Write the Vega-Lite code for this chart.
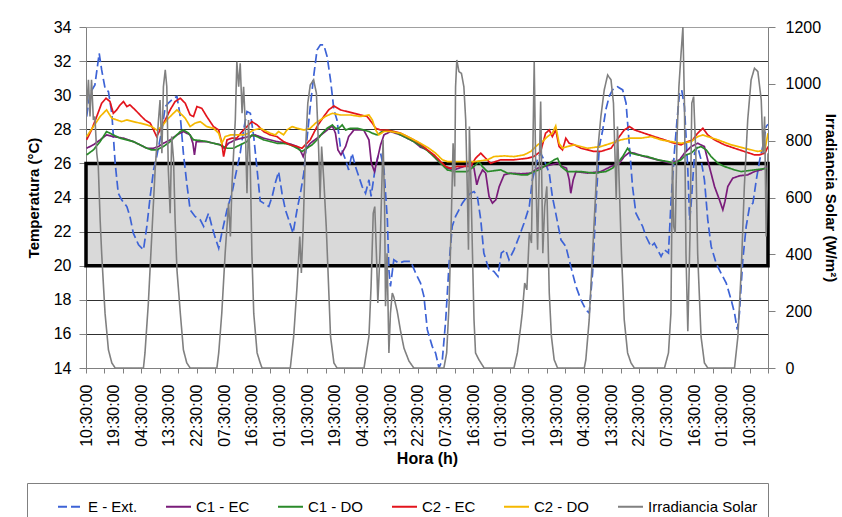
{
"$schema":"https://vega.github.io/schema/vega-lite/v6.json",
"width":682,"height":341,"autosize":"none",
"padding":{"left":86,"top":27,"right":74,"bottom":149},
"background":"white",
"config":{"view":{"stroke":null},"font":"Liberation Sans",
"axis":{"labelFont":"Liberation Sans","titleFont":"Liberation Sans","labelColor":"#000","titleColor":"#000","domainColor":"#808080","tickColor":"#808080","labelFontSize":16,"titleFontSize":16,"titleFontWeight":"bold"}},
"datasets":{
"band":[{"h":0,"h2":222,"lo":20,"hi":26}],
"d":[
{"s":"E - Ext.","h":0.2,"v":28.75},{"s":"E - Ext.","h":1.3,"v":30.11},{"s":"E - Ext.","h":2.9,"v":30.6},{"s":"E - Ext.","h":4.3,"v":32.46},{"s":"E - Ext.","h":5.1,"v":31.48},{"s":"E - Ext.","h":6.2,"v":30.41},{"s":"E - Ext.","h":7.3,"v":30.21},{"s":"E - Ext.","h":8.4,"v":28.94},{"s":"E - Ext.","h":9.5,"v":26.01},{"s":"E - Ext.","h":10.5,"v":24.25},{"s":"E - Ext.","h":11.6,"v":23.86},{"s":"E - Ext.","h":13.3,"v":23.47},{"s":"E - Ext.","h":14.3,"v":22.89},{"s":"E - Ext.","h":15.4,"v":21.91},{"s":"E - Ext.","h":17.1,"v":21.23},{"s":"E - Ext.","h":18.7,"v":20.93},{"s":"E - Ext.","h":19.8,"v":22.3},{"s":"E - Ext.","h":20.9,"v":24.06},{"s":"E - Ext.","h":22,"v":25.62},{"s":"E - Ext.","h":23,"v":26.4},{"s":"E - Ext.","h":24.7,"v":27.96},{"s":"E - Ext.","h":25.8,"v":29.33},{"s":"E - Ext.","h":26.8,"v":29.53},{"s":"E - Ext.","h":28.5,"v":29.82},{"s":"E - Ext.","h":29.6,"v":29.92},{"s":"E - Ext.","h":30.7,"v":28.75},{"s":"E - Ext.","h":31.7,"v":26.6},{"s":"E - Ext.","h":32.8,"v":24.84},{"s":"E - Ext.","h":33.9,"v":23.28},{"s":"E - Ext.","h":35.5,"v":22.89},{"s":"E - Ext.","h":37.2,"v":22.69},{"s":"E - Ext.","h":38.3,"v":22.3},{"s":"E - Ext.","h":39.9,"v":23.08},{"s":"E - Ext.","h":41,"v":22.3},{"s":"E - Ext.","h":42.1,"v":21.62},{"s":"E - Ext.","h":43.2,"v":21.03},{"s":"E - Ext.","h":44.2,"v":21.91},{"s":"E - Ext.","h":45.9,"v":23.28},{"s":"E - Ext.","h":47.5,"v":24.25},{"s":"E - Ext.","h":48.6,"v":25.23},{"s":"E - Ext.","h":50.2,"v":26.6},{"s":"E - Ext.","h":51.3,"v":27.96},{"s":"E - Ext.","h":52.4,"v":29.04},{"s":"E - Ext.","h":53.5,"v":28.94},{"s":"E - Ext.","h":54.6,"v":27.57},{"s":"E - Ext.","h":55.7,"v":25.62},{"s":"E - Ext.","h":56.7,"v":23.8},{"s":"E - Ext.","h":57.8,"v":23.67},{"s":"E - Ext.","h":59.5,"v":23.47},{"s":"E - Ext.","h":60.6,"v":24.06},{"s":"E - Ext.","h":61.6,"v":24.84},{"s":"E - Ext.","h":62.7,"v":25.52},{"s":"E - Ext.","h":63.8,"v":24.25},{"s":"E - Ext.","h":64.9,"v":23.28},{"s":"E - Ext.","h":66,"v":22.69},{"s":"E - Ext.","h":67.4,"v":21.91},{"s":"E - Ext.","h":68.7,"v":23.28},{"s":"E - Ext.","h":69.8,"v":24.25},{"s":"E - Ext.","h":70.9,"v":25.43},{"s":"E - Ext.","h":71.9,"v":27.38},{"s":"E - Ext.","h":73,"v":29.33},{"s":"E - Ext.","h":74.1,"v":31.09},{"s":"E - Ext.","h":75.2,"v":32.65},{"s":"E - Ext.","h":76.3,"v":32.95},{"s":"E - Ext.","h":77.4,"v":32.95},{"s":"E - Ext.","h":78.5,"v":32.26},{"s":"E - Ext.","h":79.6,"v":30.89},{"s":"E - Ext.","h":80.7,"v":29.14},{"s":"E - Ext.","h":81.7,"v":28.55},{"s":"E - Ext.","h":82.8,"v":26.99},{"s":"E - Ext.","h":84.5,"v":26.21},{"s":"E - Ext.","h":85.5,"v":25.62},{"s":"E - Ext.","h":86.6,"v":26.6},{"s":"E - Ext.","h":87.7,"v":25.82},{"s":"E - Ext.","h":88.8,"v":25.23},{"s":"E - Ext.","h":89.9,"v":24.64},{"s":"E - Ext.","h":91,"v":24.25},{"s":"E - Ext.","h":92.1,"v":25.04},{"s":"E - Ext.","h":92.8,"v":24.06},{"s":"E - Ext.","h":93.9,"v":25.43},{"s":"E - Ext.","h":95,"v":26.4},{"s":"E - Ext.","h":95.9,"v":26.6},{"s":"E - Ext.","h":97,"v":25.62},{"s":"E - Ext.","h":98.1,"v":22.69},{"s":"E - Ext.","h":98.6,"v":19.76},{"s":"E - Ext.","h":99.1,"v":18.78},{"s":"E - Ext.","h":100.2,"v":20.35},{"s":"E - Ext.","h":101.8,"v":20.15},{"s":"E - Ext.","h":103.5,"v":20.25},{"s":"E - Ext.","h":105.7,"v":20.25},{"s":"E - Ext.","h":107.3,"v":19.57},{"s":"E - Ext.","h":108.9,"v":18.98},{"s":"E - Ext.","h":110,"v":18.2},{"s":"E - Ext.","h":111.1,"v":16.25},{"s":"E - Ext.","h":112.7,"v":15.27},{"s":"E - Ext.","h":113.8,"v":14.88},{"s":"E - Ext.","h":114.9,"v":14},{"s":"E - Ext.","h":116,"v":14.49},{"s":"E - Ext.","h":117.1,"v":16.83},{"s":"E - Ext.","h":118.2,"v":20.15},{"s":"E - Ext.","h":119.2,"v":22.3},{"s":"E - Ext.","h":120.3,"v":22.89},{"s":"E - Ext.","h":121.4,"v":23.28},{"s":"E - Ext.","h":122.5,"v":23.67},{"s":"E - Ext.","h":124.1,"v":24.06},{"s":"E - Ext.","h":125.2,"v":24.25},{"s":"E - Ext.","h":126.3,"v":24.35},{"s":"E - Ext.","h":127.4,"v":24.06},{"s":"E - Ext.","h":128.5,"v":22.69},{"s":"E - Ext.","h":129.5,"v":20.74},{"s":"E - Ext.","h":131.2,"v":19.76},{"s":"E - Ext.","h":132.8,"v":19.66},{"s":"E - Ext.","h":134.1,"v":19.37},{"s":"E - Ext.","h":135.2,"v":20.74},{"s":"E - Ext.","h":136.6,"v":20.93},{"s":"E - Ext.","h":137.7,"v":20.35},{"s":"E - Ext.","h":139.3,"v":20.93},{"s":"E - Ext.","h":141,"v":21.71},{"s":"E - Ext.","h":142.6,"v":22.5},{"s":"E - Ext.","h":144.3,"v":23.47},{"s":"E - Ext.","h":145.3,"v":25.04},{"s":"E - Ext.","h":146.9,"v":26.21},{"s":"E - Ext.","h":148,"v":26.6},{"s":"E - Ext.","h":149.1,"v":26.21},{"s":"E - Ext.","h":150.8,"v":25.43},{"s":"E - Ext.","h":151.8,"v":24.06},{"s":"E - Ext.","h":152.9,"v":23.08},{"s":"E - Ext.","h":154.6,"v":21.52},{"s":"E - Ext.","h":156.2,"v":21.13},{"s":"E - Ext.","h":157.8,"v":19.96},{"s":"E - Ext.","h":159.5,"v":18.78},{"s":"E - Ext.","h":161.1,"v":18},{"s":"E - Ext.","h":162.7,"v":17.42},{"s":"E - Ext.","h":163.8,"v":17.22},{"s":"E - Ext.","h":164.9,"v":19.57},{"s":"E - Ext.","h":166,"v":23.67},{"s":"E - Ext.","h":167.1,"v":26.99},{"s":"E - Ext.","h":168.2,"v":27.96},{"s":"E - Ext.","h":169.2,"v":29.14},{"s":"E - Ext.","h":170.3,"v":29.92},{"s":"E - Ext.","h":171.4,"v":30.31},{"s":"E - Ext.","h":173,"v":30.5},{"s":"E - Ext.","h":174.7,"v":30.31},{"s":"E - Ext.","h":175.8,"v":29.53},{"s":"E - Ext.","h":176.9,"v":26.99},{"s":"E - Ext.","h":177.9,"v":24.64},{"s":"E - Ext.","h":179,"v":23.08},{"s":"E - Ext.","h":180.1,"v":22.69},{"s":"E - Ext.","h":181.2,"v":22.3},{"s":"E - Ext.","h":182.3,"v":21.71},{"s":"E - Ext.","h":183.9,"v":21.13},{"s":"E - Ext.","h":185,"v":21.32},{"s":"E - Ext.","h":186.1,"v":20.93},{"s":"E - Ext.","h":187.2,"v":20.54},{"s":"E - Ext.","h":188.3,"v":20.93},{"s":"E - Ext.","h":189.6,"v":20.74},{"s":"E - Ext.","h":190.4,"v":23.67},{"s":"E - Ext.","h":191.5,"v":26.6},{"s":"E - Ext.","h":192.4,"v":28.55},{"s":"E - Ext.","h":193.2,"v":30.11},{"s":"E - Ext.","h":193.9,"v":30.31},{"s":"E - Ext.","h":194.8,"v":29.33},{"s":"E - Ext.","h":195.9,"v":25.62},{"s":"E - Ext.","h":196.5,"v":22.69},{"s":"E - Ext.","h":197,"v":23.67},{"s":"E - Ext.","h":198.1,"v":26.6},{"s":"E - Ext.","h":199.1,"v":26.99},{"s":"E - Ext.","h":200.2,"v":26.21},{"s":"E - Ext.","h":201.3,"v":25.04},{"s":"E - Ext.","h":202.4,"v":22.69},{"s":"E - Ext.","h":203.5,"v":21.13},{"s":"E - Ext.","h":205.1,"v":20.15},{"s":"E - Ext.","h":206.7,"v":19.57},{"s":"E - Ext.","h":208.4,"v":18.98},{"s":"E - Ext.","h":210,"v":18},{"s":"E - Ext.","h":211.1,"v":17.22},{"s":"E - Ext.","h":212,"v":16.25},{"s":"E - Ext.","h":212.7,"v":17.22},{"s":"E - Ext.","h":213.8,"v":20.35},{"s":"E - Ext.","h":214.9,"v":22.3},{"s":"E - Ext.","h":216,"v":23.47},{"s":"E - Ext.","h":217.1,"v":23.67},{"s":"E - Ext.","h":218.2,"v":25.04},{"s":"E - Ext.","h":219.3,"v":26.21},{"s":"E - Ext.","h":220.3,"v":26.99},{"s":"E - Ext.","h":221.4,"v":28.16},{"s":"E - Ext.","h":222,"v":28.3},
{"s":"C1 - EC","h":0.2,"v":26.89},{"s":"C1 - EC","h":2.4,"v":27.09},{"s":"C1 - EC","h":4.6,"v":27.38},{"s":"C1 - EC","h":6.7,"v":27.67},{"s":"C1 - EC","h":8.9,"v":27.57},{"s":"C1 - EC","h":12.2,"v":27.48},{"s":"C1 - EC","h":15.4,"v":27.28},{"s":"C1 - EC","h":19.8,"v":26.89},{"s":"C1 - EC","h":22,"v":26.89},{"s":"C1 - EC","h":23.6,"v":26.99},{"s":"C1 - EC","h":25.2,"v":27.18},{"s":"C1 - EC","h":27.4,"v":27.38},{"s":"C1 - EC","h":29.6,"v":27.67},{"s":"C1 - EC","h":31.7,"v":27.87},{"s":"C1 - EC","h":33.9,"v":27.67},{"s":"C1 - EC","h":34.8,"v":27.18},{"s":"C1 - EC","h":35.3,"v":26.5},{"s":"C1 - EC","h":35.9,"v":27.28},{"s":"C1 - EC","h":39.3,"v":27.28},{"s":"C1 - EC","h":43.7,"v":27.09},{"s":"C1 - EC","h":45,"v":26.89},{"s":"C1 - EC","h":46.4,"v":27.18},{"s":"C1 - EC","h":48.6,"v":27.38},{"s":"C1 - EC","h":50.8,"v":27.48},{"s":"C1 - EC","h":52.9,"v":27.57},{"s":"C1 - EC","h":55.1,"v":27.67},{"s":"C1 - EC","h":57.8,"v":27.48},{"s":"C1 - EC","h":62.2,"v":27.28},{"s":"C1 - EC","h":66.5,"v":27.14},{"s":"C1 - EC","h":68.7,"v":26.99},{"s":"C1 - EC","h":69.8,"v":26.75},{"s":"C1 - EC","h":70.7,"v":26.4},{"s":"C1 - EC","h":71.4,"v":26.79},{"s":"C1 - EC","h":73,"v":27.18},{"s":"C1 - EC","h":75.2,"v":27.48},{"s":"C1 - EC","h":78.5,"v":27.96},{"s":"C1 - EC","h":80.2,"v":28.2},{"s":"C1 - EC","h":81.2,"v":27.77},{"s":"C1 - EC","h":82,"v":26.79},{"s":"C1 - EC","h":83,"v":26.5},{"s":"C1 - EC","h":84.5,"v":26.99},{"s":"C1 - EC","h":85.5,"v":27.57},{"s":"C1 - EC","h":87.2,"v":27.96},{"s":"C1 - EC","h":90.4,"v":27.96},{"s":"C1 - EC","h":92.1,"v":27.38},{"s":"C1 - EC","h":92.9,"v":26.01},{"s":"C1 - EC","h":93.9,"v":25.52},{"s":"C1 - EC","h":94.8,"v":26.21},{"s":"C1 - EC","h":95.9,"v":27.09},{"s":"C1 - EC","h":97,"v":27.67},{"s":"C1 - EC","h":99.1,"v":27.87},{"s":"C1 - EC","h":102.4,"v":27.67},{"s":"C1 - EC","h":106.7,"v":27.28},{"s":"C1 - EC","h":108.9,"v":26.95},{"s":"C1 - EC","h":111.1,"v":26.79},{"s":"C1 - EC","h":112.2,"v":26.6},{"s":"C1 - EC","h":115.4,"v":26.01},{"s":"C1 - EC","h":117.6,"v":25.72},{"s":"C1 - EC","h":119.8,"v":25.62},{"s":"C1 - EC","h":123,"v":25.82},{"s":"C1 - EC","h":125.2,"v":26.01},{"s":"C1 - EC","h":126.3,"v":25.72},{"s":"C1 - EC","h":127.2,"v":24.74},{"s":"C1 - EC","h":128,"v":25.23},{"s":"C1 - EC","h":129.1,"v":25.62},{"s":"C1 - EC","h":130.1,"v":25.43},{"s":"C1 - EC","h":131.2,"v":24.06},{"s":"C1 - EC","h":132.3,"v":23.67},{"s":"C1 - EC","h":133.4,"v":23.86},{"s":"C1 - EC","h":134.5,"v":24.64},{"s":"C1 - EC","h":136.1,"v":25.33},{"s":"C1 - EC","h":138.3,"v":25.43},{"s":"C1 - EC","h":141.5,"v":25.39},{"s":"C1 - EC","h":144.8,"v":25.43},{"s":"C1 - EC","h":147,"v":25.72},{"s":"C1 - EC","h":149.1,"v":25.82},{"s":"C1 - EC","h":151.3,"v":25.91},{"s":"C1 - EC","h":153.5,"v":26.01},{"s":"C1 - EC","h":155.1,"v":25.82},{"s":"C1 - EC","h":156.4,"v":25.72},{"s":"C1 - EC","h":157.3,"v":25.04},{"s":"C1 - EC","h":157.8,"v":24.25},{"s":"C1 - EC","h":158.6,"v":25.04},{"s":"C1 - EC","h":159.5,"v":25.52},{"s":"C1 - EC","h":163.3,"v":25.43},{"s":"C1 - EC","h":167.6,"v":25.52},{"s":"C1 - EC","h":170.9,"v":25.82},{"s":"C1 - EC","h":173.6,"v":26.01},{"s":"C1 - EC","h":175.2,"v":26.4},{"s":"C1 - EC","h":176.9,"v":26.65},{"s":"C1 - EC","h":178.5,"v":26.6},{"s":"C1 - EC","h":181.7,"v":26.4},{"s":"C1 - EC","h":186.1,"v":26.21},{"s":"C1 - EC","h":190.4,"v":26.01},{"s":"C1 - EC","h":193.2,"v":26.21},{"s":"C1 - EC","h":194.8,"v":26.6},{"s":"C1 - EC","h":197,"v":26.99},{"s":"C1 - EC","h":199.1,"v":27.18},{"s":"C1 - EC","h":201.3,"v":26.99},{"s":"C1 - EC","h":202.9,"v":25.82},{"s":"C1 - EC","h":204.6,"v":24.64},{"s":"C1 - EC","h":206.2,"v":23.86},{"s":"C1 - EC","h":207.3,"v":23.28},{"s":"C1 - EC","h":208,"v":23.77},{"s":"C1 - EC","h":208.9,"v":24.64},{"s":"C1 - EC","h":210.5,"v":25.13},{"s":"C1 - EC","h":212.7,"v":25.27},{"s":"C1 - EC","h":215.4,"v":25.33},{"s":"C1 - EC","h":217.6,"v":25.52},{"s":"C1 - EC","h":219.8,"v":25.62},{"s":"C1 - EC","h":222,"v":25.82},
{"s":"C1 - DO","h":0.2,"v":26.5},{"s":"C1 - DO","h":2.4,"v":26.79},{"s":"C1 - DO","h":4.6,"v":27.28},{"s":"C1 - DO","h":6.7,"v":27.87},{"s":"C1 - DO","h":8.9,"v":27.67},{"s":"C1 - DO","h":11.1,"v":27.48},{"s":"C1 - DO","h":13.3,"v":27.38},{"s":"C1 - DO","h":15.4,"v":27.28},{"s":"C1 - DO","h":17.6,"v":27.09},{"s":"C1 - DO","h":19.8,"v":26.89},{"s":"C1 - DO","h":21.4,"v":26.79},{"s":"C1 - DO","h":23,"v":26.79},{"s":"C1 - DO","h":25.2,"v":26.99},{"s":"C1 - DO","h":27.4,"v":27.28},{"s":"C1 - DO","h":29,"v":27.57},{"s":"C1 - DO","h":30.7,"v":27.87},{"s":"C1 - DO","h":31.7,"v":27.96},{"s":"C1 - DO","h":33.4,"v":27.77},{"s":"C1 - DO","h":35,"v":27.38},{"s":"C1 - DO","h":37.2,"v":27.34},{"s":"C1 - DO","h":39.3,"v":27.28},{"s":"C1 - DO","h":41.5,"v":27.18},{"s":"C1 - DO","h":43.7,"v":27.09},{"s":"C1 - DO","h":45.9,"v":26.89},{"s":"C1 - DO","h":48,"v":26.89},{"s":"C1 - DO","h":50.2,"v":27.09},{"s":"C1 - DO","h":52.4,"v":27.28},{"s":"C1 - DO","h":54,"v":27.67},{"s":"C1 - DO","h":55.7,"v":27.57},{"s":"C1 - DO","h":57.8,"v":27.38},{"s":"C1 - DO","h":60,"v":27.28},{"s":"C1 - DO","h":62.2,"v":27.18},{"s":"C1 - DO","h":64.3,"v":27.18},{"s":"C1 - DO","h":66.5,"v":27.09},{"s":"C1 - DO","h":68.7,"v":26.89},{"s":"C1 - DO","h":70.3,"v":26.7},{"s":"C1 - DO","h":71.9,"v":26.89},{"s":"C1 - DO","h":73.6,"v":27.09},{"s":"C1 - DO","h":75.2,"v":27.38},{"s":"C1 - DO","h":76.9,"v":27.77},{"s":"C1 - DO","h":78.5,"v":28.06},{"s":"C1 - DO","h":80.2,"v":28.26},{"s":"C1 - DO","h":81.2,"v":28.06},{"s":"C1 - DO","h":82.3,"v":28.06},{"s":"C1 - DO","h":83.4,"v":28.26},{"s":"C1 - DO","h":84.5,"v":27.96},{"s":"C1 - DO","h":86.1,"v":28.06},{"s":"C1 - DO","h":88.3,"v":28.06},{"s":"C1 - DO","h":90.4,"v":27.96},{"s":"C1 - DO","h":92.1,"v":27.87},{"s":"C1 - DO","h":93.2,"v":27.77},{"s":"C1 - DO","h":94.8,"v":27.67},{"s":"C1 - DO","h":96.4,"v":27.87},{"s":"C1 - DO","h":98,"v":27.96},{"s":"C1 - DO","h":100.2,"v":27.87},{"s":"C1 - DO","h":102.4,"v":27.67},{"s":"C1 - DO","h":104.6,"v":27.48},{"s":"C1 - DO","h":106.7,"v":27.28},{"s":"C1 - DO","h":108.9,"v":27.04},{"s":"C1 - DO","h":111.1,"v":26.75},{"s":"C1 - DO","h":113.3,"v":26.4},{"s":"C1 - DO","h":115.4,"v":26.01},{"s":"C1 - DO","h":117.6,"v":25.62},{"s":"C1 - DO","h":119.8,"v":25.52},{"s":"C1 - DO","h":124.1,"v":25.52},{"s":"C1 - DO","h":126.3,"v":25.82},{"s":"C1 - DO","h":127.9,"v":26.11},{"s":"C1 - DO","h":129,"v":25.82},{"s":"C1 - DO","h":130.7,"v":25.52},{"s":"C1 - DO","h":135,"v":25.62},{"s":"C1 - DO","h":137.2,"v":25.43},{"s":"C1 - DO","h":141.5,"v":25.33},{"s":"C1 - DO","h":143.7,"v":25.33},{"s":"C1 - DO","h":145.9,"v":25.52},{"s":"C1 - DO","h":147.5,"v":25.62},{"s":"C1 - DO","h":149.1,"v":25.82},{"s":"C1 - DO","h":150.8,"v":26.01},{"s":"C1 - DO","h":152.4,"v":26.21},{"s":"C1 - DO","h":153.5,"v":26.3},{"s":"C1 - DO","h":154.6,"v":25.82},{"s":"C1 - DO","h":156.7,"v":25.52},{"s":"C1 - DO","h":161.1,"v":25.52},{"s":"C1 - DO","h":165.4,"v":25.43},{"s":"C1 - DO","h":169.2,"v":25.52},{"s":"C1 - DO","h":171.4,"v":25.72},{"s":"C1 - DO","h":173,"v":26.01},{"s":"C1 - DO","h":174.7,"v":26.4},{"s":"C1 - DO","h":176.3,"v":26.89},{"s":"C1 - DO","h":177.4,"v":26.6},{"s":"C1 - DO","h":179.6,"v":26.5},{"s":"C1 - DO","h":182.8,"v":26.4},{"s":"C1 - DO","h":186.1,"v":26.21},{"s":"C1 - DO","h":189.3,"v":26.11},{"s":"C1 - DO","h":191.5,"v":26.01},{"s":"C1 - DO","h":193.7,"v":26.21},{"s":"C1 - DO","h":195.3,"v":26.5},{"s":"C1 - DO","h":197,"v":26.6},{"s":"C1 - DO","h":198.7,"v":26.89},{"s":"C1 - DO","h":200.2,"v":26.99},{"s":"C1 - DO","h":201.9,"v":26.79},{"s":"C1 - DO","h":203.5,"v":26.4},{"s":"C1 - DO","h":205.7,"v":26.01},{"s":"C1 - DO","h":207.8,"v":25.82},{"s":"C1 - DO","h":211.1,"v":25.62},{"s":"C1 - DO","h":213.3,"v":25.52},{"s":"C1 - DO","h":217.6,"v":25.62},{"s":"C1 - DO","h":222,"v":25.72},
{"s":"C2 - EC","h":0.2,"v":27.38},{"s":"C2 - EC","h":1.8,"v":27.96},{"s":"C2 - EC","h":3.5,"v":28.75},{"s":"C2 - EC","h":5.1,"v":29.53},{"s":"C2 - EC","h":6.5,"v":29.82},{"s":"C2 - EC","h":7.8,"v":29.63},{"s":"C2 - EC","h":8.9,"v":28.94},{"s":"C2 - EC","h":10,"v":29.14},{"s":"C2 - EC","h":11.1,"v":29.43},{"s":"C2 - EC","h":12.2,"v":29.63},{"s":"C2 - EC","h":13.3,"v":29.33},{"s":"C2 - EC","h":14.3,"v":29.43},{"s":"C2 - EC","h":16,"v":29.14},{"s":"C2 - EC","h":17.6,"v":28.84},{"s":"C2 - EC","h":19.2,"v":28.55},{"s":"C2 - EC","h":20.9,"v":28.36},{"s":"C2 - EC","h":22,"v":27.96},{"s":"C2 - EC","h":23,"v":27.57},{"s":"C2 - EC","h":24.1,"v":27.96},{"s":"C2 - EC","h":25.8,"v":28.55},{"s":"C2 - EC","h":27.4,"v":29.14},{"s":"C2 - EC","h":29,"v":29.63},{"s":"C2 - EC","h":30.7,"v":29.82},{"s":"C2 - EC","h":32.3,"v":29.53},{"s":"C2 - EC","h":33.9,"v":28.84},{"s":"C2 - EC","h":35,"v":28.75},{"s":"C2 - EC","h":36.1,"v":29.33},{"s":"C2 - EC","h":37.7,"v":29.23},{"s":"C2 - EC","h":39.3,"v":28.75},{"s":"C2 - EC","h":41.5,"v":28.16},{"s":"C2 - EC","h":43.2,"v":27.96},{"s":"C2 - EC","h":44.2,"v":27.18},{"s":"C2 - EC","h":44.8,"v":26.4},{"s":"C2 - EC","h":45.9,"v":27.38},{"s":"C2 - EC","h":47.5,"v":27.48},{"s":"C2 - EC","h":49.1,"v":27.48},{"s":"C2 - EC","h":50.8,"v":27.87},{"s":"C2 - EC","h":52.4,"v":28.16},{"s":"C2 - EC","h":54,"v":28.45},{"s":"C2 - EC","h":55.7,"v":28.26},{"s":"C2 - EC","h":57.8,"v":27.87},{"s":"C2 - EC","h":60,"v":27.67},{"s":"C2 - EC","h":62.2,"v":27.57},{"s":"C2 - EC","h":64.3,"v":27.28},{"s":"C2 - EC","h":66.5,"v":27.09},{"s":"C2 - EC","h":68.7,"v":26.99},{"s":"C2 - EC","h":70.3,"v":26.89},{"s":"C2 - EC","h":71.4,"v":27.09},{"s":"C2 - EC","h":73,"v":27.38},{"s":"C2 - EC","h":75.2,"v":28.16},{"s":"C2 - EC","h":77.4,"v":28.75},{"s":"C2 - EC","h":79,"v":29.14},{"s":"C2 - EC","h":80.7,"v":29.37},{"s":"C2 - EC","h":82.8,"v":29.14},{"s":"C2 - EC","h":85,"v":29.04},{"s":"C2 - EC","h":87.2,"v":28.94},{"s":"C2 - EC","h":89.3,"v":28.84},{"s":"C2 - EC","h":91.5,"v":28.75},{"s":"C2 - EC","h":93.2,"v":28.36},{"s":"C2 - EC","h":94.3,"v":28.06},{"s":"C2 - EC","h":95.9,"v":27.96},{"s":"C2 - EC","h":98,"v":27.96},{"s":"C2 - EC","h":100.2,"v":27.87},{"s":"C2 - EC","h":102.4,"v":27.77},{"s":"C2 - EC","h":104.6,"v":27.57},{"s":"C2 - EC","h":106.7,"v":27.38},{"s":"C2 - EC","h":108.9,"v":27.14},{"s":"C2 - EC","h":111.1,"v":26.79},{"s":"C2 - EC","h":113.3,"v":26.5},{"s":"C2 - EC","h":115.4,"v":26.11},{"s":"C2 - EC","h":117.1,"v":25.82},{"s":"C2 - EC","h":118.7,"v":25.72},{"s":"C2 - EC","h":120.9,"v":25.82},{"s":"C2 - EC","h":125.2,"v":25.82},{"s":"C2 - EC","h":126.8,"v":26.3},{"s":"C2 - EC","h":128.5,"v":26.6},{"s":"C2 - EC","h":130.1,"v":26.3},{"s":"C2 - EC","h":131.7,"v":26.01},{"s":"C2 - EC","h":135,"v":26.21},{"s":"C2 - EC","h":139.3,"v":26.21},{"s":"C2 - EC","h":143.7,"v":26.3},{"s":"C2 - EC","h":145.7,"v":26.4},{"s":"C2 - EC","h":148,"v":26.7},{"s":"C2 - EC","h":149.6,"v":27.77},{"s":"C2 - EC","h":150.8,"v":27.96},{"s":"C2 - EC","h":151.8,"v":27.57},{"s":"C2 - EC","h":152.9,"v":27.96},{"s":"C2 - EC","h":154,"v":26.99},{"s":"C2 - EC","h":155.1,"v":26.79},{"s":"C2 - EC","h":156.2,"v":27.48},{"s":"C2 - EC","h":157.3,"v":27.18},{"s":"C2 - EC","h":158.9,"v":27.09},{"s":"C2 - EC","h":161.1,"v":26.89},{"s":"C2 - EC","h":163.3,"v":26.79},{"s":"C2 - EC","h":165.4,"v":26.7},{"s":"C2 - EC","h":167.6,"v":26.7},{"s":"C2 - EC","h":170.9,"v":26.89},{"s":"C2 - EC","h":173.6,"v":27.57},{"s":"C2 - EC","h":175.2,"v":27.96},{"s":"C2 - EC","h":176.9,"v":28.16},{"s":"C2 - EC","h":178.6,"v":27.96},{"s":"C2 - EC","h":181.7,"v":27.77},{"s":"C2 - EC","h":185,"v":27.57},{"s":"C2 - EC","h":188.3,"v":27.38},{"s":"C2 - EC","h":191.5,"v":27.18},{"s":"C2 - EC","h":193.7,"v":27.09},{"s":"C2 - EC","h":195.9,"v":27.28},{"s":"C2 - EC","h":197.5,"v":27.38},{"s":"C2 - EC","h":199.1,"v":27.77},{"s":"C2 - EC","h":200.8,"v":28.06},{"s":"C2 - EC","h":202.4,"v":27.67},{"s":"C2 - EC","h":204.6,"v":27.38},{"s":"C2 - EC","h":207.8,"v":27.09},{"s":"C2 - EC","h":211.1,"v":26.89},{"s":"C2 - EC","h":214.3,"v":26.7},{"s":"C2 - EC","h":217.6,"v":26.5},{"s":"C2 - EC","h":219.2,"v":26.5},{"s":"C2 - EC","h":221,"v":26.6},{"s":"C2 - EC","h":222,"v":26.99},
{"s":"C2 - DO","h":0.2,"v":27.57},{"s":"C2 - DO","h":2.4,"v":28.16},{"s":"C2 - DO","h":4.6,"v":28.75},{"s":"C2 - DO","h":6.7,"v":29.14},{"s":"C2 - DO","h":8.4,"v":28.65},{"s":"C2 - DO","h":10,"v":28.55},{"s":"C2 - DO","h":11.6,"v":28.45},{"s":"C2 - DO","h":13.3,"v":28.55},{"s":"C2 - DO","h":15.4,"v":28.45},{"s":"C2 - DO","h":17.6,"v":28.36},{"s":"C2 - DO","h":19.8,"v":28.26},{"s":"C2 - DO","h":21.4,"v":28.16},{"s":"C2 - DO","h":23,"v":27.96},{"s":"C2 - DO","h":24.7,"v":28.16},{"s":"C2 - DO","h":26.3,"v":28.55},{"s":"C2 - DO","h":27.9,"v":28.84},{"s":"C2 - DO","h":29.6,"v":29.14},{"s":"C2 - DO","h":30.7,"v":28.94},{"s":"C2 - DO","h":32.3,"v":28.65},{"s":"C2 - DO","h":33.9,"v":28.16},{"s":"C2 - DO","h":35.5,"v":28.36},{"s":"C2 - DO","h":37.2,"v":28.45},{"s":"C2 - DO","h":39.3,"v":28.16},{"s":"C2 - DO","h":41.5,"v":28.06},{"s":"C2 - DO","h":43.2,"v":27.77},{"s":"C2 - DO","h":44.2,"v":27.18},{"s":"C2 - DO","h":45.3,"v":27.57},{"s":"C2 - DO","h":47,"v":27.67},{"s":"C2 - DO","h":49.1,"v":27.67},{"s":"C2 - DO","h":51.3,"v":27.67},{"s":"C2 - DO","h":52.9,"v":27.77},{"s":"C2 - DO","h":54.6,"v":27.96},{"s":"C2 - DO","h":56.7,"v":28.06},{"s":"C2 - DO","h":57.8,"v":27.96},{"s":"C2 - DO","h":60,"v":27.77},{"s":"C2 - DO","h":61.6,"v":27.67},{"s":"C2 - DO","h":62.7,"v":27.87},{"s":"C2 - DO","h":64.3,"v":27.67},{"s":"C2 - DO","h":65.4,"v":27.96},{"s":"C2 - DO","h":67.1,"v":28.16},{"s":"C2 - DO","h":68.7,"v":28.06},{"s":"C2 - DO","h":70.9,"v":27.96},{"s":"C2 - DO","h":73,"v":28.06},{"s":"C2 - DO","h":74.7,"v":28.36},{"s":"C2 - DO","h":76.3,"v":28.55},{"s":"C2 - DO","h":77.9,"v":28.75},{"s":"C2 - DO","h":80.2,"v":28.94},{"s":"C2 - DO","h":82.8,"v":28.84},{"s":"C2 - DO","h":86.1,"v":28.84},{"s":"C2 - DO","h":89.3,"v":28.75},{"s":"C2 - DO","h":92.1,"v":28.84},{"s":"C2 - DO","h":93.2,"v":28.55},{"s":"C2 - DO","h":94.3,"v":27.96},{"s":"C2 - DO","h":95.3,"v":27.67},{"s":"C2 - DO","h":97,"v":27.87},{"s":"C2 - DO","h":99.1,"v":27.87},{"s":"C2 - DO","h":102.4,"v":27.77},{"s":"C2 - DO","h":105.7,"v":27.48},{"s":"C2 - DO","h":108.9,"v":27.18},{"s":"C2 - DO","h":111.6,"v":26.89},{"s":"C2 - DO","h":113.8,"v":26.6},{"s":"C2 - DO","h":116,"v":26.21},{"s":"C2 - DO","h":117.6,"v":26.11},{"s":"C2 - DO","h":120.9,"v":26.11},{"s":"C2 - DO","h":124.1,"v":26.11},{"s":"C2 - DO","h":126.8,"v":26.11},{"s":"C2 - DO","h":130.7,"v":26.21},{"s":"C2 - DO","h":132.8,"v":26.4},{"s":"C2 - DO","h":136.1,"v":26.44},{"s":"C2 - DO","h":139.3,"v":26.4},{"s":"C2 - DO","h":142.6,"v":26.5},{"s":"C2 - DO","h":144.8,"v":26.7},{"s":"C2 - DO","h":147,"v":27.09},{"s":"C2 - DO","h":148.6,"v":27.28},{"s":"C2 - DO","h":150.2,"v":27.57},{"s":"C2 - DO","h":151.8,"v":27.77},{"s":"C2 - DO","h":152.9,"v":28.2},{"s":"C2 - DO","h":154,"v":27.18},{"s":"C2 - DO","h":155.1,"v":26.89},{"s":"C2 - DO","h":156.7,"v":26.99},{"s":"C2 - DO","h":158.9,"v":27.09},{"s":"C2 - DO","h":161.1,"v":26.99},{"s":"C2 - DO","h":163.3,"v":26.89},{"s":"C2 - DO","h":167.6,"v":26.99},{"s":"C2 - DO","h":170.9,"v":27.18},{"s":"C2 - DO","h":174.1,"v":27.38},{"s":"C2 - DO","h":176.9,"v":27.48},{"s":"C2 - DO","h":180.7,"v":27.48},{"s":"C2 - DO","h":183.9,"v":27.57},{"s":"C2 - DO","h":187.2,"v":27.38},{"s":"C2 - DO","h":190.4,"v":27.28},{"s":"C2 - DO","h":193.7,"v":27.18},{"s":"C2 - DO","h":197,"v":27.28},{"s":"C2 - DO","h":199.1,"v":27.57},{"s":"C2 - DO","h":200.8,"v":27.67},{"s":"C2 - DO","h":202.4,"v":27.57},{"s":"C2 - DO","h":205.7,"v":27.38},{"s":"C2 - DO","h":210,"v":27.09},{"s":"C2 - DO","h":214.3,"v":26.89},{"s":"C2 - DO","h":218.7,"v":26.7},{"s":"C2 - DO","h":221,"v":26.79},{"s":"C2 - DO","h":222,"v":27.77},
{"s":"Irradiancia Solar","h":0,"v":873},{"s":"Irradiancia Solar","h":0.8,"v":1014},{"s":"Irradiancia Solar","h":1.3,"v":885},{"s":"Irradiancia Solar","h":1.8,"v":1014},{"s":"Irradiancia Solar","h":2.4,"v":873},{"s":"Irradiancia Solar","h":2.9,"v":885},{"s":"Irradiancia Solar","h":3.5,"v":756},{"s":"Irradiancia Solar","h":4,"v":709},{"s":"Irradiancia Solar","h":4.6,"v":522},{"s":"Irradiancia Solar","h":5.1,"v":404},{"s":"Irradiancia Solar","h":5.7,"v":287},{"s":"Irradiancia Solar","h":6.2,"v":193},{"s":"Irradiancia Solar","h":7.3,"v":64},{"s":"Irradiancia Solar","h":8.4,"v":18},{"s":"Irradiancia Solar","h":9.5,"v":0},
{"s":"Irradiancia Solar","h":18.7,"v":0},{"s":"Irradiancia Solar","h":19.2,"v":53},{"s":"Irradiancia Solar","h":20.3,"v":229},{"s":"Irradiancia Solar","h":21.4,"v":463},{"s":"Irradiancia Solar","h":22.5,"v":697},{"s":"Irradiancia Solar","h":23.6,"v":873},{"s":"Irradiancia Solar","h":24.1,"v":943},{"s":"Irradiancia Solar","h":24.7,"v":756},{"s":"Irradiancia Solar","h":25.2,"v":990},{"s":"Irradiancia Solar","h":25.8,"v":1049},{"s":"Irradiancia Solar","h":26.3,"v":990},{"s":"Irradiancia Solar","h":26.8,"v":697},{"s":"Irradiancia Solar","h":27.4,"v":545},{"s":"Irradiancia Solar","h":27.9,"v":815},{"s":"Irradiancia Solar","h":28.5,"v":733},{"s":"Irradiancia Solar","h":29,"v":522},{"s":"Irradiancia Solar","h":29.6,"v":346},{"s":"Irradiancia Solar","h":30.7,"v":193},{"s":"Irradiancia Solar","h":31.7,"v":64},{"s":"Irradiancia Solar","h":32.8,"v":18},{"s":"Irradiancia Solar","h":33.9,"v":0},
{"s":"Irradiancia Solar","h":42.6,"v":0},{"s":"Irradiancia Solar","h":43.2,"v":53},{"s":"Irradiancia Solar","h":44.2,"v":193},{"s":"Irradiancia Solar","h":45.3,"v":404},{"s":"Irradiancia Solar","h":46.4,"v":580},{"s":"Irradiancia Solar","h":47,"v":463},{"s":"Irradiancia Solar","h":47.5,"v":639},{"s":"Irradiancia Solar","h":48.6,"v":873},{"s":"Irradiancia Solar","h":49.1,"v":1078},{"s":"Irradiancia Solar","h":49.7,"v":990},{"s":"Irradiancia Solar","h":50.2,"v":1072},{"s":"Irradiancia Solar","h":50.8,"v":897},{"s":"Irradiancia Solar","h":51.3,"v":990},{"s":"Irradiancia Solar","h":51.8,"v":873},{"s":"Irradiancia Solar","h":52.4,"v":615},{"s":"Irradiancia Solar","h":52.9,"v":873},{"s":"Irradiancia Solar","h":53.5,"v":697},{"s":"Irradiancia Solar","h":54,"v":404},{"s":"Irradiancia Solar","h":54.6,"v":193},{"s":"Irradiancia Solar","h":55.7,"v":53},{"s":"Irradiancia Solar","h":56.7,"v":18},{"s":"Irradiancia Solar","h":57.3,"v":0},
{"s":"Irradiancia Solar","h":66.5,"v":0},{"s":"Irradiancia Solar","h":67.6,"v":111},{"s":"Irradiancia Solar","h":68.7,"v":287},{"s":"Irradiancia Solar","h":69.6,"v":463},{"s":"Irradiancia Solar","h":70.1,"v":334},{"s":"Irradiancia Solar","h":70.7,"v":498},{"s":"Irradiancia Solar","h":71.4,"v":756},{"s":"Irradiancia Solar","h":72.2,"v":932},{"s":"Irradiancia Solar","h":73,"v":996},{"s":"Irradiancia Solar","h":74.1,"v":1014},{"s":"Irradiancia Solar","h":75,"v":967},{"s":"Irradiancia Solar","h":75.7,"v":779},{"s":"Irradiancia Solar","h":76.2,"v":598},{"s":"Irradiancia Solar","h":76.7,"v":779},{"s":"Irradiancia Solar","h":77.4,"v":662},{"s":"Irradiancia Solar","h":78.2,"v":498},{"s":"Irradiancia Solar","h":78.8,"v":334},{"s":"Irradiancia Solar","h":79.6,"v":111},{"s":"Irradiancia Solar","h":80.7,"v":18},{"s":"Irradiancia Solar","h":81.7,"v":0},
{"s":"Irradiancia Solar","h":90.5,"v":0},{"s":"Irradiancia Solar","h":92.1,"v":111},{"s":"Irradiancia Solar","h":92.8,"v":287},{"s":"Irradiancia Solar","h":93.5,"v":545},{"s":"Irradiancia Solar","h":94,"v":568},{"s":"Irradiancia Solar","h":94.6,"v":381},{"s":"Irradiancia Solar","h":95,"v":229},{"s":"Irradiancia Solar","h":95.7,"v":404},{"s":"Irradiancia Solar","h":96.1,"v":568},{"s":"Irradiancia Solar","h":96.7,"v":803},{"s":"Irradiancia Solar","h":97.2,"v":568},{"s":"Irradiancia Solar","h":97.5,"v":217},{"s":"Irradiancia Solar","h":98,"v":404},{"s":"Irradiancia Solar","h":98.6,"v":53},{"s":"Irradiancia Solar","h":99.1,"v":193},{"s":"Irradiancia Solar","h":99.7,"v":264},{"s":"Irradiancia Solar","h":100.2,"v":250},{"s":"Irradiancia Solar","h":101.3,"v":200},{"s":"Irradiancia Solar","h":102.4,"v":130},{"s":"Irradiancia Solar","h":103.5,"v":70},{"s":"Irradiancia Solar","h":105.1,"v":25},{"s":"Irradiancia Solar","h":106.7,"v":0},
{"s":"Irradiancia Solar","h":116.5,"v":0},{"s":"Irradiancia Solar","h":117.4,"v":53},{"s":"Irradiancia Solar","h":118.2,"v":229},{"s":"Irradiancia Solar","h":118.9,"v":522},{"s":"Irradiancia Solar","h":119.5,"v":791},{"s":"Irradiancia Solar","h":120,"v":639},{"s":"Irradiancia Solar","h":120.3,"v":990},{"s":"Irradiancia Solar","h":120.7,"v":1084},{"s":"Irradiancia Solar","h":121.4,"v":1043},{"s":"Irradiancia Solar","h":122.2,"v":1037},{"s":"Irradiancia Solar","h":123,"v":990},{"s":"Irradiancia Solar","h":123.6,"v":873},{"s":"Irradiancia Solar","h":124.1,"v":639},{"s":"Irradiancia Solar","h":124.5,"v":416},{"s":"Irradiancia Solar","h":124.8,"v":850},{"s":"Irradiancia Solar","h":125.2,"v":697},{"s":"Irradiancia Solar","h":125.8,"v":404},{"s":"Irradiancia Solar","h":126.3,"v":170},{"s":"Irradiancia Solar","h":126.8,"v":53},{"s":"Irradiancia Solar","h":127.9,"v":29},{"s":"Irradiancia Solar","h":129.6,"v":0},
{"s":"Irradiancia Solar","h":139.3,"v":0},{"s":"Irradiancia Solar","h":140.4,"v":53},{"s":"Irradiancia Solar","h":141.5,"v":146},{"s":"Irradiancia Solar","h":142,"v":193},{"s":"Irradiancia Solar","h":142.8,"v":299},{"s":"Irradiancia Solar","h":143.5,"v":275},{"s":"Irradiancia Solar","h":144.3,"v":475},{"s":"Irradiancia Solar","h":145,"v":440},{"s":"Irradiancia Solar","h":145.9,"v":1078},{"s":"Irradiancia Solar","h":146.4,"v":697},{"s":"Irradiancia Solar","h":147,"v":416},{"s":"Irradiancia Solar","h":148,"v":938},{"s":"Irradiancia Solar","h":148.7,"v":404},{"s":"Irradiancia Solar","h":149.3,"v":568},{"s":"Irradiancia Solar","h":150,"v":639},{"s":"Irradiancia Solar","h":150.8,"v":264},{"s":"Irradiancia Solar","h":151.5,"v":111},{"s":"Irradiancia Solar","h":152.4,"v":29},{"s":"Irradiancia Solar","h":153.5,"v":0},
{"s":"Irradiancia Solar","h":162.2,"v":0},{"s":"Irradiancia Solar","h":162.7,"v":29},{"s":"Irradiancia Solar","h":163.8,"v":170},{"s":"Irradiancia Solar","h":164.9,"v":404},{"s":"Irradiancia Solar","h":166,"v":639},{"s":"Irradiancia Solar","h":166.5,"v":756},{"s":"Irradiancia Solar","h":167.6,"v":885},{"s":"Irradiancia Solar","h":168.7,"v":979},{"s":"Irradiancia Solar","h":169.8,"v":1031},{"s":"Irradiancia Solar","h":170.9,"v":1014},{"s":"Irradiancia Solar","h":171.7,"v":932},{"s":"Irradiancia Solar","h":172.3,"v":709},{"s":"Irradiancia Solar","h":172.6,"v":592},{"s":"Irradiancia Solar","h":173,"v":850},{"s":"Irradiancia Solar","h":173.6,"v":639},{"s":"Irradiancia Solar","h":174.3,"v":404},{"s":"Irradiancia Solar","h":175.2,"v":170},{"s":"Irradiancia Solar","h":176.3,"v":53},{"s":"Irradiancia Solar","h":177.4,"v":18},{"s":"Irradiancia Solar","h":178.5,"v":0},
{"s":"Irradiancia Solar","h":188.3,"v":0},{"s":"Irradiancia Solar","h":189.6,"v":53},{"s":"Irradiancia Solar","h":190.4,"v":193},{"s":"Irradiancia Solar","h":190.9,"v":733},{"s":"Irradiancia Solar","h":191.3,"v":498},{"s":"Irradiancia Solar","h":191.8,"v":475},{"s":"Irradiancia Solar","h":192.4,"v":815},{"s":"Irradiancia Solar","h":193,"v":990},{"s":"Irradiancia Solar","h":193.7,"v":1107},{"s":"Irradiancia Solar","h":194.3,"v":1200},{"s":"Irradiancia Solar","h":194.8,"v":932},{"s":"Irradiancia Solar","h":195.3,"v":404},{"s":"Irradiancia Solar","h":195.9,"v":129},{"s":"Irradiancia Solar","h":196.6,"v":463},{"s":"Irradiancia Solar","h":197.2,"v":932},{"s":"Irradiancia Solar","h":197.8,"v":955},{"s":"Irradiancia Solar","h":198.5,"v":756},{"s":"Irradiancia Solar","h":199.1,"v":404},{"s":"Irradiancia Solar","h":200.2,"v":111},{"s":"Irradiancia Solar","h":201.3,"v":18},{"s":"Irradiancia Solar","h":202.4,"v":0},
{"s":"Irradiancia Solar","h":211.1,"v":0},{"s":"Irradiancia Solar","h":212.2,"v":111},{"s":"Irradiancia Solar","h":213.3,"v":346},{"s":"Irradiancia Solar","h":214.3,"v":639},{"s":"Irradiancia Solar","h":215.4,"v":873},{"s":"Irradiancia Solar","h":216.5,"v":1014},{"s":"Irradiancia Solar","h":217.6,"v":1055},{"s":"Irradiancia Solar","h":218.7,"v":1043},{"s":"Irradiancia Solar","h":219.8,"v":943},{"s":"Irradiancia Solar","h":220.4,"v":756},{"s":"Irradiancia Solar","h":220.9,"v":885},{"s":"Irradiancia Solar","h":221.4,"v":463},{"s":"Irradiancia Solar","h":222,"v":756}
]},
"encoding":{"x":{"field":"h","type":"quantitative","scale":{"domain":[0,222],"nice":false,"zero":false},
"axis":{"title":"Hora (h)","values":[0,6,9,12,18,24,27,30,36,42,45,48,54,60,63,66,72,78,81,84,90,96,99,102,108,114,117,120,126,132,135,138,144,150,153,156,162,168,171,174,180,186,189,192,198,204,207,210,216,222],
"labelExpr":"datum.value % 9 == 0 ? ((floor((10.5 + datum.value) % 24) < 10 ? '0' : '') + floor((10.5 + datum.value) % 24) + ':30:00') : ''",
"labelAngle":270,"labelOverlap":false,"labelBound":false,"labelFlush":false,"grid":false,"tickSize":5,"labelPadding":11,"titlePadding":4,
"tickOpacity":{"condition":{"test":"datum.value % 6 != 0","value":0},"value":1}}}},
"layer":[
{"layer":[
{"data":{"name":"band"},"mark":{"type":"rect","fill":"#000000","fillOpacity":0.15,"stroke":"#000000","strokeWidth":3.5},
"encoding":{"x2":{"field":"h2"},"y":{"field":"lo","type":"quantitative","scale":{"domain":[14,34],"nice":false,"zero":false},
"axis":{"title":"Temperatura (°C)","titleFontSize":15,"values":[14,16,18,20,22,24,26,28,30,32,34],"grid":true,"gridColor":{"condition":{"test":"datum.value == 34","value":"#a0a0a0"},"value":"#303030"},"tickSize":7,"labelPadding":8,"titlePadding":12}},"y2":{"field":"hi"}}},
{"data":{"name":"d"},"transform":[{"filter":"datum.s != 'Irradiancia Solar'"}],"mark":{"type":"line","strokeWidth":1.7,"clip":true},
"encoding":{"y":{"field":"v","type":"quantitative","axis":{"title":"Temperatura (°C)","titleFontSize":15,"values":[14,16,18,20,22,24,26,28,30,32,34],"grid":true,"gridColor":{"condition":{"test":"datum.value == 34","value":"#a0a0a0"},"value":"#303030"},"tickSize":7,"labelPadding":8,"titlePadding":12}},
"color":{"field":"s","type":"nominal","scale":{"domain":["E - Ext.","C1 - EC","C1 - DO","C2 - EC","C2 - DO","Irradiancia Solar"],"range":["#3d63d6","#7a1c7a","#2a8a2a","#e3141c","#f5b800","#808080"]},
"legend":{"orient":"none","legendX":-59,"legendY":456,"direction":"horizontal","columns":6,"title":" ","titleOrient":"left","titlePadding":20,"symbolType":"stroke","symbolSize":625,"symbolStrokeWidth":2,"labelFontSize":15,"labelColor":"#000","labelOffset":4,"columnPadding":24,"strokeColor":"#808080","padding":10,"labelLimit":300}},
"strokeDash":{"field":"s","type":"nominal","scale":{"domain":["E - Ext.","C1 - EC","C1 - DO","C2 - EC","C2 - DO","Irradiancia Solar"],"range":[[9,4],[1,0],[1,0],[1,0],[1,0],[1,0]]},
"legend":{"orient":"none","legendX":-59,"legendY":456,"direction":"horizontal","columns":6,"title":" ","titleOrient":"left","titlePadding":20,"symbolType":"stroke","symbolSize":625,"symbolStrokeWidth":2,"labelFontSize":15,"labelColor":"#000","labelOffset":4,"columnPadding":24,"strokeColor":"#808080","padding":10,"labelLimit":300}}}}
]},
{"data":{"name":"d"},"transform":[{"filter":"datum.s == 'Irradiancia Solar'"}],"mark":{"type":"line","strokeWidth":1.6,"clip":true},
"encoding":{"y":{"field":"v","type":"quantitative","scale":{"domain":[0,1200],"nice":false,"zero":false},
"axis":{"orient":"right","title":"Irradiancia Solar (W/m²)","titleFontSize":15,"format":"d","values":[0,200,400,600,800,1000,1200],"grid":false,"tickSize":7,"labelPadding":10,"titlePadding":2}},
"color":{"field":"s","type":"nominal"},"strokeDash":{"field":"s","type":"nominal"}}}
],
"resolve":{"scale":{"y":"independent"}}
}
